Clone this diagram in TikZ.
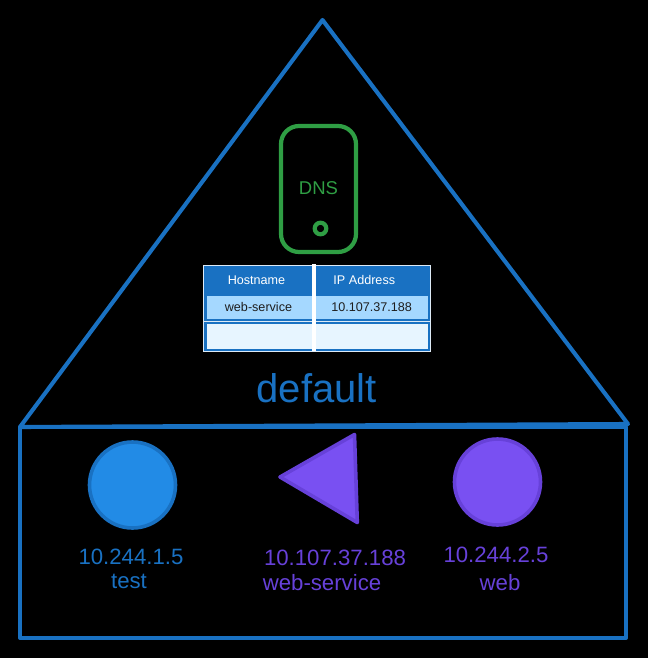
\documentclass[tikz,border=0pt]{standalone}
\usepackage{fontspec}
\setmainfont{Liberation Sans}
\definecolor{nsblue}{HTML}{1971C2}
\definecolor{podblue}{HTML}{228BE6}
\definecolor{svcviolet}{HTML}{7950F2}
\definecolor{violetline}{HTML}{6741D9}
\definecolor{dnsgreen}{HTML}{2F9E44}
\definecolor{rowblue}{HTML}{A5D8FF}
\definecolor{rowpale}{HTML}{E7F5FF}
\definecolor{inkdark}{HTML}{1E1E1E}
\tikzset{
  nsline/.style={draw=nsblue,line width=4.1pt,line join=round,line cap=round},
  podA/.style={draw=nsblue,fill=podblue,line width=3.6pt},
  podB/.style={draw=violetline,fill=svcviolet,line width=3.6pt,line join=round},
  big/.style={font=\fontsize{22.2}{26}\selectfont,inner sep=0pt,anchor=center},
  small/.style={font=\fontsize{12.6}{15}\selectfont,inner sep=0pt,anchor=center},
  rowbox/.style={draw=nsblue,line width=2.4pt}
}
\begin{document}
\begin{tikzpicture}[x=1pt,y=-1pt]
\fill[black] (0,0) rectangle (648,658);
\useasboundingbox (0,0) rectangle (648,658);
% namespace
\draw[nsline] (322.5,20) -- (628,424) -- (20,427) -- cycle;
\draw[nsline] (20,427) rectangle (626,638);
\node[big,text=nsblue,font=\fontsize{40}{48}\selectfont] (ns) at (316.8,388.5) {default};
% DNS device
\draw[draw=dnsgreen,line width=4.2pt,rounded corners=18pt] (281,126) rectangle (356,252);
\draw[draw=dnsgreen,line width=4.2pt] (320.5,228.5) circle (5.8);
\node[text=dnsgreen,inner sep=0pt,font=\fontsize{18.5}{22}\selectfont] (dns) at (318.5,188) {DNS};
% table
\fill[white!85!nsblue] (203,265) rectangle (431,352);
\fill[nsblue] (204,266) rectangle (430,293.5);
\draw[rowbox,fill=rowblue] (205.5,295) rectangle (429,320);
\draw[rowbox,fill=rowpale] (205.5,323) rectangle (429,350);
\draw[white,line width=3.2pt] (314,264) -- (314,351);
\node[small,text=white] (h1) at (256.5,280) {Hostname};
\node[small,text=white] (h2) at (364.3,280) {IP Address};
\node[small,text=inkdark] (c1) at (258.5,307) {web-service};
\node[small,text=inkdark] (c2) at (371.7,307) {10.107.37.188};
% pods
\draw[podA] (132.5,485) ellipse (43 and 43);
\draw[podB] (497.5,482) ellipse (43 and 43);
\draw[podB] (280,477) -- (354.5,434.5) -- (357.3,522.5) -- cycle;
\node[big,text=nsblue] (t1) at (131,556.5) {10.244.1.5};
\node[big,text=nsblue] (t2) at (129,581) {test};
\node[big,text=violetline] (s1) at (335,558) {10.107.37.188};
\node[big,text=violetline] (s2) at (322,583) {web-service};
\node[big,text=violetline] (w1) at (496,555) {10.244.2.5};
\node[big,text=violetline] (w2) at (500,583) {web};
\end{tikzpicture}
\end{document}
